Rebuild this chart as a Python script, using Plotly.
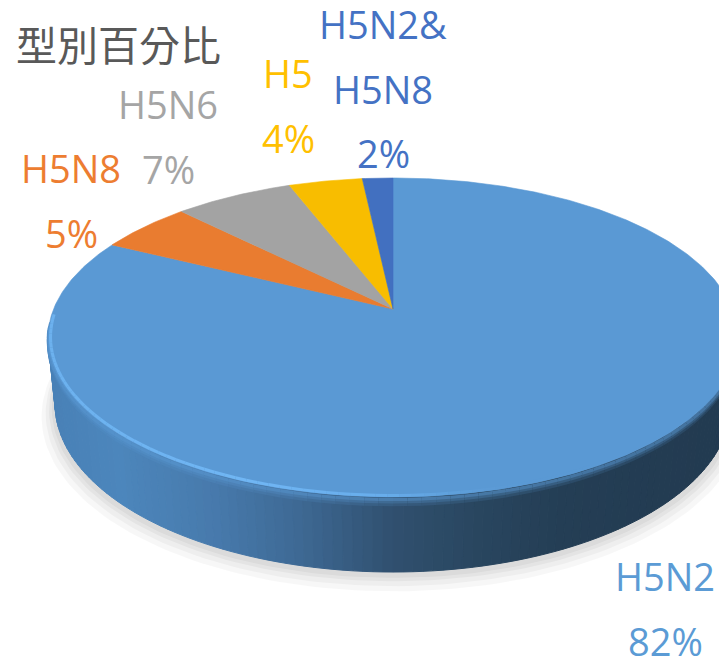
import numpy as np
import plotly.graph_objects as go

# ---------------- data ----------------
labels = ["H5N2", "H5N8", "H5N6", "H5", "H5N2&H5N8"]
values = [82.4, 5.2, 6.6, 4.1, 1.7]
slice_colors = ["#5A99D4", "#E97C30", "#A3A3A3", "#F8BD00", "#4270C0"]
label_colors = ["#5B9BD5", "#ED7D31", "#A5A5A5", "#FFC000", "#4472C4"]
title_text = "型別百分比"

# label placement (centre x, centre y of first line) and line step, in px
label_pos = [(665, 576), (71, 168), (168, 104), (288, 73), (383, 24)]
LINE_STEP = 64.5

# ---------------- 3D pie projection ----------------
CX, CY = 393.0, 309.0          # apex on screen
G = 339.4                      # horizontal scale
SINP, COSP = 0.455, 0.8906     # tilt
RD = 0.2007                    # radius / camera distance
ETA = 0.2213                   # thickness / radius


def proj(theta, r=1.0, depth=0.0):
    X = r * np.sin(theta)
    Z = r * np.cos(theta)
    Y = -depth
    yc = Y * COSP + Z * SINP
    zc = (Z * COSP - Y * SINP) * RD
    return CX + G * X / (1 + zc), CY - G * yc / (1 + zc)


def hex2rgb(h):
    h = h.lstrip("#")
    return np.array([int(h[i:i + 2], 16) for i in (0, 2, 4)], dtype=float)


def rgb_str(c):
    return "rgb(%d,%d,%d)" % tuple(np.round(c))


def interp_rgb(x, stops):
    xs = [s[0] for s in stops]
    cs = [hex2rgb(s[1]) for s in stops]
    x = min(max(x, xs[0]), xs[-1])
    for i in range(len(xs) - 1):
        if xs[i] <= x <= xs[i + 1]:
            t = (x - xs[i]) / (xs[i + 1] - xs[i])
            return cs[i] * (1 - t) + cs[i + 1] * t
    return cs[-1]


def interp_color(x, stops):
    return rgb_str(interp_rgb(x, stops))


fig = go.Figure()


def poly(xs, ys, color, lw=0.8, fillcolor=None):
    fig.add_trace(go.Scatter(
        x=xs, y=ys, mode="lines", fill="toself",
        fillcolor=fillcolor if fillcolor else color,
        line=dict(color=color, width=lw),
        hoverinfo="skip", showlegend=False))


def seg_line(xs, ys, color, width):
    fig.add_trace(go.Scatter(x=xs, y=ys, mode="lines",
                             line=dict(color=color, width=width),
                             hoverinfo="skip", showlegend=False))


# ---------------- shadow ----------------
tt = np.linspace(0, 2 * np.pi, 240)
bx, by = proj(tt, depth=ETA)
bcx, bcy = bx.mean(), by.mean()
for e, dy, a in [(0.04, 12, 0.03), (0.028, 9, 0.035), (0.018, 6, 0.04), (0.01, 4, 0.04)]:
    sx = bcx + (bx - bcx) * (1 + e)
    sy = bcy + (by - bcy) * (1 + e) + dy
    poly(sx, sy, "rgba(0,0,0,0)", lw=0, fillcolor="rgba(0,0,0,%.3f)" % a)

# ---------------- side wall (gradient strips) ----------------
side_stops = [(45, "#4880B6"), (120, "#4C86BC"), (220, "#4779AB"),
              (300, "#3E6994"), (393, "#30506F"), (480, "#29465F"),
              (560, "#243E55"), (740, "#223A50")]
th_side = np.linspace(np.radians(95), np.radians(265), 121)
strips = []
for j in range(len(th_side) - 1):
    t0, t1 = th_side[j], th_side[j + 1]
    tx, ty = proj(np.array([t0, t1]))
    ux, uy = proj(np.array([t1, t0]), depth=ETA)
    xs = np.concatenate([tx, ux, tx[:1]])
    ys = np.concatenate([ty, uy, ty[:1]])
    mid = 0.5 * (t0 + t1)
    strips.append((abs(mid - np.pi), xs, ys, interp_color(xs.mean(), side_stops)))
strips.sort(key=lambda s: -s[0])
for _, xs, ys, c in strips:
    poly(xs, ys, c, lw=1.0)

# ---------------- soft bevel on the side just under the rim ----------------
top_rgb = hex2rgb(slice_colors[0])
th_b = np.linspace(np.radians(96), np.radians(264), 85)
for d, mix in [(0.022, 0.15), (0.014, 0.35), (0.007, 0.6)]:
    for j in range(len(th_b) - 1):
        rx, ry = proj(th_b[j:j + 2], depth=d)
        side_c = interp_rgb(rx.mean(), side_stops)
        c = side_c * (1 - mix) + top_rgb * mix
        seg_line(rx, ry, rgb_str(c), 3.2)

# ---------------- top surface slices ----------------
total = float(sum(values))
fr = np.array(values) / total
bounds = np.concatenate([[0.0], np.cumsum(fr)]) * 2 * np.pi
for i in range(len(values)):
    th = np.linspace(bounds[i], bounds[i + 1], max(6, int(600 * fr[i])))
    ax, ay = proj(th)
    xs = np.concatenate([[CX], ax, [CX]])
    ys = np.concatenate([[CY], ay, [CY]])
    poly(xs, ys, slice_colors[i], lw=0.6)

# ---------------- rim highlight (left / front) ----------------
hl_stops = [(40, "#6CB1EE"), (250, "#70B6F4"), (380, "#68ADEB"), (470, "#5D9DD8"), (520, "#5A99D4")]
th_hl = np.linspace(np.radians(150), np.radians(268), 70)
for j in range(len(th_hl) - 1):
    rx, ry = proj(th_hl[j:j + 2], r=0.993)
    seg_line(rx, ry, interp_color(rx.mean(), hl_stops), 3)

# ---------------- labels ----------------
LFONT = "Open Sans, Noto Sans, sans-serif"
pcts = [int(round(v / total * 100)) for v in values]
for i, lab in enumerate(labels):
    if "&" in lab:
        a, b = lab.split("&")
        lines = [a + "&", b]
    else:
        lines = [lab]
    lines.append("%d%%" % pcts[i])
    x0, y0 = label_pos[i]
    for k, ln in enumerate(lines):
        fig.add_annotation(x=x0, y=y0 + k * LINE_STEP, text=ln, showarrow=False,
                           xanchor="center", yanchor="middle",
                           font=dict(family=LFONT, size=38, color=label_colors[i]))

fig.add_annotation(x=14, y=43, text=title_text, showarrow=False,
                   xanchor="left", yanchor="middle",
                   font=dict(family="Noto Sans CJK TC, Noto Sans CJK SC, sans-serif",
                             size=41, color="#595959"))

fig.update_layout(
    width=719, height=656, margin=dict(l=0, r=0, t=0, b=0),
    paper_bgcolor="white", plot_bgcolor="white", showlegend=False,
    xaxis=dict(range=[0, 719], visible=False, fixedrange=True),
    yaxis=dict(range=[656, 0], visible=False, fixedrange=True),
)

fig.write_html("out.html")
